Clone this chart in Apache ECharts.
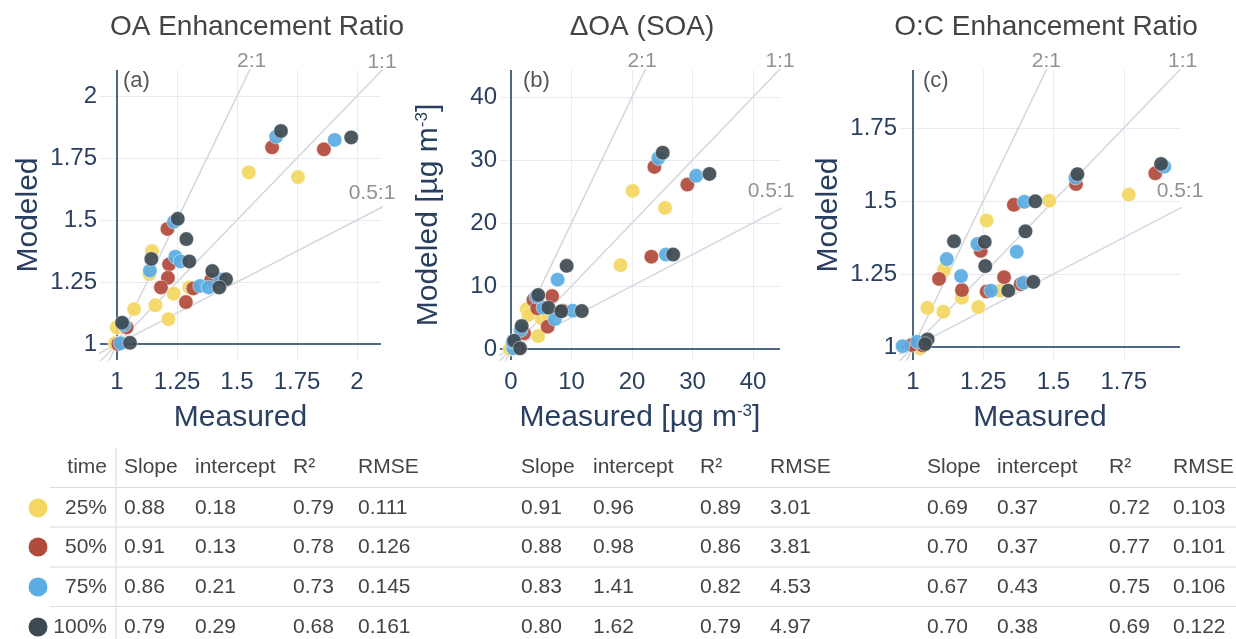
<!DOCTYPE html>
<html>
<head>
<meta charset="utf-8">
<script src="https://cdn.jsdelivr.net/npm/echarts@6/dist/echarts.min.js"></script>
<style>
  html, body { margin: 0; padding: 0; background: #fff; }
  #chart { width: 1236px; height: 639px; }
</style>
</head>
<body>
<div id="chart"></div>
<script>
// ---- data -------------------------------------------------------------
const timeLabels = ['25%', '50%', '75%', '100%'];

// OA enhancement ratio: [measured, modeled]
const oa25  = [[1.549,1.692],[1.754,1.673],[1.146,1.375],[1.135,1.282],[1.301,1.228],[1.236,1.203],[1.160,1.156],[1.071,1.141],[1.214,1.100],[0.999,1.067],[0.992,1.003]];
const oa50  = [[1.646,1.793],[1.862,1.785],[1.210,1.464],[1.217,1.321],[1.212,1.267],[1.392,1.258],[1.183,1.228],[1.318,1.224],[1.287,1.169],[1.040,1.067],[1.005,1.000]];
const oa75  = [[1.663,1.836],[1.907,1.823],[1.237,1.493],[1.243,1.352],[1.264,1.333],[1.137,1.296],[1.429,1.261],[1.346,1.234],[1.381,1.228],[1.029,1.077],[1.015,1.003]];
const oa100 = [[1.683,1.859],[1.976,1.833],[1.253,1.505],[1.289,1.423],[1.143,1.343],[1.301,1.333],[1.397,1.294],[1.454,1.261],[1.426,1.228],[1.021,1.086],[1.054,1.005]];

// ΔOA (SOA) in µg m-3: [measured, modeled]
const soa25  = [[20.1,25.1],[25.45,22.4],[18.1,13.3],[2.6,6.3],[2.87,5.4],[5.07,4.86],[6.2,5.2],[4.5,2.06],[0.1,0.63],[-0.2,0.0],[0.3,1.0]];
const soa50  = [[23.7,28.9],[29.15,26.1],[23.2,14.65],[3.7,7.8],[6.8,8.4],[4.35,6.46],[8.54,6.08],[6.06,3.54],[2.15,2.49],[0.6,0.8],[1.2,0.2]];
const soa75  = [[24.35,30.3],[30.6,27.5],[25.6,15.0],[7.7,11.0],[5.35,6.56],[10.2,6.08],[7.27,4.76],[1.6,3.0],[0.38,0.1],[4.2,8.3],[0.3,1.1]];
const soa100 = [[25.07,31.16],[32.8,27.8],[26.8,15.0],[9.2,13.2],[4.5,8.57],[6.17,6.56],[8.3,5.98],[11.7,6.03],[1.77,3.65],[0.5,1.32],[1.5,0.1]];

// O:C enhancement ratio: [measured, modeled]
const oc25  = [[1.7675,1.522],[1.485,1.501],[1.262,1.433],[1.110,1.264],[1.174,1.169],[1.310,1.193],[1.051,1.134],[1.108,1.121],[1.232,1.137],[1.025,0.995],[1.035,1.005]];
const oc50  = [[1.862,1.595],[1.580,1.558],[1.359,1.487],[1.241,1.329],[1.0925,1.233],[1.324,1.239],[1.174,1.195],[1.262,1.190],[1.383,1.215],[0.995,1.007],[1.035,1.005]];
const oc75  = [[1.894,1.6175],[1.578,1.580],[1.396,1.497],[1.229,1.353],[1.369,1.326],[1.120,1.301],[1.171,1.243],[1.2776,1.193],[1.3925,1.220],[0.963,1.003],[1.015,1.018]];
const oc100 = [[1.8826,1.627],[1.585,1.592],[1.435,1.499],[1.400,1.396],[1.146,1.362],[1.255,1.360],[1.257,1.277],[1.339,1.193],[1.428,1.223],[1.052,1.026],[1.043,1.010]];

// tick labels
const ratioTicksA = [1, 1.25, 1.5, 1.75, 2];
const soaTicks    = [0, 10, 20, 30, 40];
const ratioTicksC = [1, 1.25, 1.5, 1.75];

// reference lines
const ratioSlopes = [2, 1, 0.5];
const ratioNames  = ['2:1', '1:1', '0.5:1'];

// fit statistics per time
const statHeaders = ['Slope', 'intercept', 'R²', 'RMSE'];
const oaSlope = [0.88, 0.91, 0.86, 0.79];
const oaIntercept = [0.18, 0.13, 0.21, 0.29];
const oaR2 = [0.79, 0.78, 0.73, 0.68];
const oaRmse = [0.111, 0.126, 0.145, 0.161];
const soaSlope = [0.91, 0.88, 0.83, 0.80];
const soaIntercept = [0.96, 0.98, 1.41, 1.62];
const soaR2 = [0.89, 0.86, 0.82, 0.79];
const soaRmse = [3.01, 3.81, 4.53, 4.97];
const ocSlope = [0.69, 0.70, 0.67, 0.70];
const ocIntercept = [0.37, 0.37, 0.43, 0.38];
const ocR2 = [0.72, 0.77, 0.75, 0.69];
const ocRmse = [0.103, 0.101, 0.106, 0.122];

// ---- styling / layout ---------------------------------------------------
const FONT = '"Liberation Sans", Arial, sans-serif';
const timeColors = ['#f3d762', '#b04a3c', '#5aace2', '#3e4a52'];
const navy = '#2a3f5f';
const axisColor = '#506784';

const panels = [
  { title: 'OA Enhancement Ratio', titleX: 257, tag: '(a)', left: 100, width: 281,
    x: [0.929, 2.1], y: [0.9355, 2.105], xTicks: ratioTicksA, yTicks: ratioTicksA, origin: 1,
    xName: 'Measured', yName: 'Modeled',
    sets: [oa25, oa50, oa75, oa100],
    stats: [oaSlope, oaIntercept, oaR2, oaRmse], digits: [2, 2, 2, 3],
    cols: [124, 195, 293, 358], labelShift: [[2, 5], [1, 5], [-9, 0]] },
  { title: 'ΔOA (SOA)', titleX: 642, tag: '(b)', left: 500, width: 280,
    x: [-1.82, 44.46], y: [-1.75, 44.3], xTicks: soaTicks, yTicks: soaTicks, origin: 0,
    xName: 'Measured [µg m{sup|-3}]', yName: 'Modeled [µg m{sup|-3}]',
    sets: [soa25, soa50, soa75, soa100],
    stats: [soaSlope, soaIntercept, soaR2, soaRmse], digits: [2, 2, 2, 2],
    cols: [521, 593, 700, 770], labelShift: [[-3, 5], [1, 5], [-9, -4]] },
  { title: 'O:C Enhancement Ratio', titleX: 1046, tag: '(c)', left: 900, width: 280,
    x: [0.9537, 1.95], y: [0.9555, 1.9486], xTicks: ratioTicksC, yTicks: ratioTicksC, origin: 1,
    xName: 'Measured', yName: 'Modeled',
    sets: [oc25, oc50, oc75, oc100],
    stats: [ocSlope, ocIntercept, ocR2, ocRmse], digits: [2, 2, 2, 3],
    cols: [927, 997, 1109, 1173], labelShift: [[0, 5], [3, 5], [0, -3]] }
];
const gridTop = 70, gridHeight = 290;

const nameStyle = {
  fontSize: 30, color: navy, fontFamily: FONT,
  rich: { sup: { fontSize: 17, color: navy, fontFamily: FONT, verticalAlign: 'top', lineHeight: 17 } }
};

const grids = [], xAxes = [], yAxes = [], series = [], graphics = [];

panels.forEach((p, i) => {
  grids.push({ left: p.left, top: gridTop, width: p.width, height: gridHeight, containLabel: false });
  const axisCommon = (ext, ticks, name, gap, margin) => ({
    gridIndex: i, type: 'value', min: ext[0], max: ext[1],
    name: name, nameLocation: 'middle', nameGap: gap, nameTextStyle: nameStyle,
    axisLine: { show: false },
    axisTick: { show: false, customValues: ticks },
    axisLabel: { customValues: ticks, color: navy, fontSize: 24, fontFamily: FONT, margin: margin },
    splitLine: { show: true, lineStyle: { color: '#e8ecf2', width: 1 } }
  });
  xAxes.push(axisCommon(p.x, p.xTicks, p.xName, 43, 10));
  yAxes.push(axisCommon(p.y, p.yTicks, p.yName, 56, 3));

  // reference ratio lines through the origin, clipped to the plot area
  const span = 10 * (p.x[1] - p.x[0]);
  const o = p.origin;
  ratioSlopes.forEach((s, k) => {
    const line = {
      type: 'line', xAxisIndex: i, yAxisIndex: i, silent: true, clip: true,
      symbol: 'none', animation: false, z: 1,
      data: [[o - span, o - s * span], [o + span, o + s * span]],
      lineStyle: { color: '#d2d7de', width: 1.5 }
    };
    if (k === 0) {
      // axis lines crossing at the origin
      line.markLine = {
        silent: true, symbol: 'none', animation: false, z: 2,
        label: { show: false },
        lineStyle: { color: axisColor, width: 2, type: 'solid' },
        data: [{ xAxis: o }, { yAxis: o }]
      };
    }
    series.push(line);
  });

  // ratio labels at the points where each line leaves the plot
  series.push({
    type: 'scatter', xAxisIndex: i, yAxisIndex: i, silent: true, clip: false,
    symbolSize: 1, itemStyle: { color: 'rgba(0,0,0,0)' }, z: 4,
    data: ratioSlopes.map((s, k) => {
      const t = Math.min(p.x[1] - o, (p.y[1] - o) / s);
      return {
        value: [o + t, o + s * t],
        label: { show: true, position: 'top', distance: 3, offset: p.labelShift[k],
          formatter: ratioNames[k], color: '#777', fontSize: 21, fontFamily: FONT }
      };
    })
  });

  // measured vs modeled points, one series per time
  p.sets.forEach((d, t) => {
    series.push({
      type: 'scatter', name: timeLabels[t], xAxisIndex: i, yAxisIndex: i, silent: true,
      data: d, symbolSize: 14.5, z: 3,
      itemStyle: { color: timeColors[t], opacity: 0.93, borderColor: '#fff', borderWidth: 0.5 }
    });
  });

  // panel title and tag
  graphics.push({ type: 'text', silent: true,
    style: { text: p.title, x: p.titleX, y: 27, fill: '#444', font: '28px ' + FONT,
      textAlign: 'center', textVerticalAlign: 'middle', align: 'center', verticalAlign: 'middle' } });
  graphics.push({ type: 'text', silent: true,
    style: { text: p.tag, x: p.left + 23, y: 81, fill: '#555', font: '22px ' + FONT,
      textAlign: 'left', textVerticalAlign: 'middle', align: 'left', verticalAlign: 'middle' } });
});

// ---- statistics table ---------------------------------------------------
const headerY = 467;
const rowY = [508, 547, 587, 627];
const ruleY = [487.5, 527, 567, 606.5];
const tableFont = '21px ' + FONT;
const tableColor = '#444';

function txt(s, x, y, align) {
  graphics.push({ type: 'text', silent: true,
    style: { text: s, x: x, y: y, fill: tableColor, font: tableFont,
      textAlign: align, textVerticalAlign: 'middle', align: align, verticalAlign: 'middle' } });
}

ruleY.forEach(y => graphics.push({ type: 'line', silent: true,
  shape: { x1: 50, y1: y, x2: 1236, y2: y }, style: { stroke: '#dcdcdc', lineWidth: 1.2 } }));
graphics.push({ type: 'line', silent: true,
  shape: { x1: 116, y1: 448, x2: 116, y2: 639 }, style: { stroke: '#dcdcdc', lineWidth: 1.2 } });

txt('time', 107, headerY, 'right');
timeLabels.forEach((lab, r) => {
  txt(lab, 107, rowY[r], 'right');
  graphics.push({ type: 'circle', silent: true,
    shape: { cx: 38, cy: rowY[r], r: 9.5 }, style: { fill: timeColors[r] } });
});

panels.forEach(p => {
  statHeaders.forEach((h, c) => txt(h, p.cols[c], headerY, 'left'));
  p.stats.forEach((col, c) => {
    col.forEach((v, r) => txt(v.toFixed(p.digits[c]), p.cols[c], rowY[r], 'left'));
  });
});

const chart = echarts.init(document.getElementById('chart'), null, { renderer: 'canvas' });
chart.setOption({
  animation: false,
  backgroundColor: '#fff',
  grid: grids,
  xAxis: xAxes,
  yAxis: yAxes,
  series: series,
  graphic: graphics
});
</script>
</body>
</html>
